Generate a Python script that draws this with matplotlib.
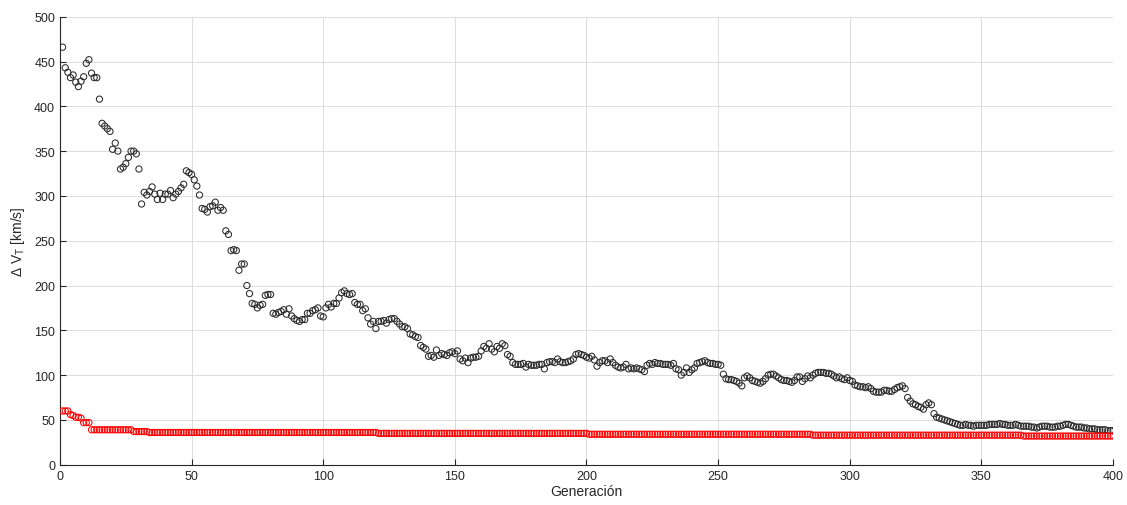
import numpy as np
import matplotlib
matplotlib.use('Agg')
import matplotlib.pyplot as plt

plt.rcParams['font.family'] = ['Liberation Sans', 'DejaVu Sans']

# media de la poblacion (negro), por generacion 1..400
media = [
    466, 443, 438, 432, 435, 427, 422, 428, 433, 448,
    452, 437, 432, 432, 408, 381, 378, 375, 372, 352,
    359, 350, 330, 332, 336, 343, 350, 350, 347, 330,
    291, 304, 301, 305, 310, 302, 296, 303, 296, 302,
    302, 306, 298, 302, 305, 309, 313, 328, 326, 324,
    318, 311, 301, 286, 285, 282, 288, 289, 293, 284,
    287, 284, 261, 257, 239, 240, 239, 217, 224, 224,
    200, 191, 180, 179, 175, 178, 179, 189, 190, 190,
    169, 168, 170, 171, 173, 168, 174, 166, 163, 161,
    160, 162, 162, 169, 169, 172, 173, 175, 166, 165,
    175, 179, 176, 180, 180, 186, 192, 194, 191, 190,
    191, 181, 179, 179, 172, 174, 164, 157, 160, 152,
    160, 160, 161, 158, 162, 163, 163, 160, 157, 154,
    154, 152, 146, 145, 143, 142, 133, 131, 129, 121,
    122, 120, 128, 122, 124, 123, 122, 125, 126, 124,
    127, 118, 116, 119, 114, 119, 120, 120, 121, 127,
    132, 130, 135, 129, 126, 132, 130, 135, 133, 123,
    121, 114, 112, 112, 112, 113, 109, 112, 111, 111,
    111, 112, 112, 107, 114, 115, 115, 114, 118, 115,
    114, 114, 115, 116, 118, 123, 124, 123, 122, 120,
    119, 121, 117, 110, 114, 116, 116, 114, 118, 114,
    111, 109, 108, 109, 112, 107, 108, 107, 108, 107,
    106, 104, 111, 113, 112, 114, 113, 113, 112, 112,
    112, 111, 113, 107, 106, 100, 103, 108, 103, 106,
    108, 113, 114, 115, 116, 114, 113, 113, 112, 112,
    111, 101, 96, 95, 95, 94, 93, 91, 88, 97,
    99, 97, 94, 93, 92, 91, 93, 96, 100, 101,
    101, 99, 97, 95, 94, 94, 93, 92, 94, 98,
    98, 93, 96, 99, 97, 100, 102, 103, 103, 103,
    102, 102, 101, 99, 97, 98, 96, 95, 97, 94,
    93, 89, 88, 87, 87, 86, 87, 85, 82, 81,
    81, 81, 83, 83, 82, 82, 84, 86, 87, 88,
    85, 75, 71, 68, 67, 65, 64, 62, 67, 69,
    67, 57, 53, 52, 51, 50, 49, 48, 47, 46,
    45, 44, 44, 45, 44, 44, 43, 44, 44, 44,
    44, 44, 45, 45, 45, 45, 46, 45, 45, 44,
    44, 44, 45, 44, 43, 43, 43, 43, 42, 42,
    41, 42, 43, 43, 43, 42, 42, 42, 43, 43,
    44, 45, 45, 44, 43, 42, 42, 42, 41, 41,
    40, 40, 40, 39, 39, 39, 39, 38, 38, 38,
]

# mejor individuo (rojo), por generacion 1..400
mejor = [
    60, 60, 60, 56, 55, 53, 53, 52, 47, 47,
    47, 39, 39, 39, 39, 39, 39, 39, 39, 39,
    39, 39, 39, 39, 39, 39, 39, 37, 37, 37,
    37, 37, 37, 36, 36, 36, 36, 36, 36, 36,
    36, 36, 36, 36, 36, 36, 36, 36, 36, 36,
    36, 36, 36, 36, 36, 36, 36, 36, 36, 36,
    36, 36, 36, 36, 36, 36, 36, 36, 36, 36,
    36, 36, 36, 36, 36, 36, 36, 36, 36, 36,
    36, 36, 36, 36, 36, 36, 36, 36, 36, 36,
    36, 36, 36, 36, 36, 36, 36, 36, 36, 36,
    36, 36, 36, 36, 36, 36, 36, 36, 36, 36,
    36, 36, 36, 36, 36, 36, 36, 36, 36, 36,
    35, 35, 35, 35, 35, 35, 35, 35, 35, 35,
    35, 35, 35, 35, 35, 35, 35, 35, 35, 35,
    35, 35, 35, 35, 35, 35, 35, 35, 35, 35,
    35, 35, 35, 35, 35, 35, 35, 35, 35, 35,
    35, 35, 35, 35, 35, 35, 35, 35, 35, 35,
    35, 35, 35, 35, 35, 35, 35, 35, 35, 35,
    35, 35, 35, 35, 35, 35, 35, 35, 35, 35,
    35, 35, 35, 35, 35, 35, 35, 35, 35, 35,
    34, 34, 34, 34, 34, 34, 34, 34, 34, 34,
    34, 34, 34, 34, 34, 34, 34, 34, 34, 34,
    34, 34, 34, 34, 34, 34, 34, 34, 34, 34,
    34, 34, 34, 34, 34, 34, 34, 34, 34, 34,
    34, 34, 34, 34, 34, 34, 34, 34, 34, 34,
    34, 34, 34, 34, 34, 34, 34, 34, 34, 34,
    34, 34, 34, 34, 34, 34, 34, 34, 34, 34,
    34, 34, 34, 34, 34, 34, 34, 34, 34, 34,
    34, 34, 34, 34, 34, 33, 33, 33, 33, 33,
    33, 33, 33, 33, 33, 33, 33, 33, 33, 33,
    33, 33, 33, 33, 33, 33, 33, 33, 33, 33,
    33, 33, 33, 33, 33, 33, 33, 33, 33, 33,
    33, 33, 33, 33, 33, 33, 33, 33, 33, 33,
    33, 33, 33, 33, 33, 33, 33, 33, 33, 33,
    33, 33, 33, 33, 33, 33, 33, 33, 33, 33,
    33, 33, 33, 33, 33, 33, 33, 33, 33, 33,
    33, 33, 33, 33, 33, 32, 32, 32, 32, 32,
    32, 32, 32, 32, 32, 32, 32, 32, 32, 32,
    32, 32, 32, 32, 32, 32, 32, 32, 32, 32,
    32, 32, 32, 32, 32, 32, 32, 32, 32, 32,
]

gen = np.arange(1, len(media) + 1)

fig = plt.figure(figsize=(11.27, 5.06), dpi=100)
ax = fig.add_axes([0.0532, 0.0796, 0.9344, 0.8854])

ax.scatter(gen, media, s=20, facecolors='none', edgecolors='#2a2a2a', linewidths=0.75, zorder=3)
ax.scatter(gen, mejor, s=20, facecolors='none', edgecolors='#ff0000', linewidths=0.75, zorder=3)

ax.set_xlim(0, 400)
ax.set_ylim(0, 500)
ax.set_xticks(np.arange(0, 401, 50))
ax.set_yticks(np.arange(0, 501, 50))
ax.grid(True, color='#dcdcdc', lw=0.7)
ax.set_axisbelow(True)
for s in ('top', 'right'):
    ax.spines[s].set_visible(False)
for s in ('left', 'bottom'):
    ax.spines[s].set_color('#262626')
    ax.spines[s].set_linewidth(0.8)
ax.tick_params(direction='in', length=4, width=0.8, colors='#262626', labelsize=9,
               top=False, right=False)

ax.set_xlabel('Generación', fontsize=10, color='#262626', labelpad=2)
ax.set_ylabel('\u0394 V$_{\\mathregular{T}}$ [km/s]', fontsize=10, color='#262626', labelpad=5)

fig.savefig('out.png', dpi=100)
